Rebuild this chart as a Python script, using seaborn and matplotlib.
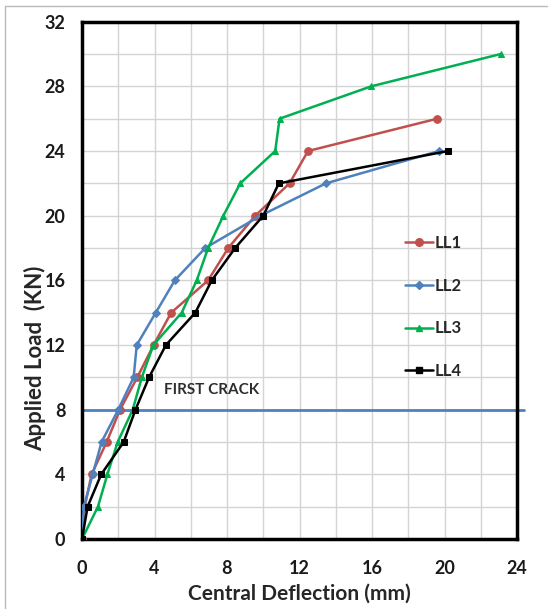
import pandas as pd
import numpy as np
import matplotlib.pyplot as plt
import seaborn as sns
from matplotlib.lines import Line2D

# load steps (KN) and central deflection (mm)
load_ll1 = [0, 2, 4, 6, 8, 10, 12, 14, 16, 18, 20, 22, 24, 26]
defl_ll1 = [0, 0.15, 0.53, 1.36, 2.1, 3.05, 3.95, 4.92, 6.96, 8.07, 9.56, 11.45, 12.47, 19.6]

load_ll2 = [0, 2, 4, 6, 8, 10, 12, 14, 16, 18, 20, 22, 24]
defl_ll2 = [0, 0.1, 0.59, 1.08, 2.0, 2.85, 3.02, 4.07, 5.12, 6.8, 9.85, 13.46, 19.7]

load_ll3 = [0, 2, 4, 6, 8, 10, 12, 14, 16, 18, 20, 22, 24, 26, 28, 30]
defl_ll3 = [0, 0.88, 1.4, 1.97, 2.8, 3.3, 3.94, 5.5, 6.33, 6.96, 7.8, 8.73, 10.66, 10.9, 15.95, 23.1]

load_ll4 = [0, 2, 4, 6, 8, 10, 12, 14, 16, 18, 20, 22, 24]
defl_ll4 = [0, 0.31, 1.06, 2.3, 2.95, 3.7, 4.63, 6.25, 7.16, 8.45, 10.0, 10.86, 20.2]

series_names = ['LL1', 'LL2', 'LL3', 'LL4']
first_crack_load = 8

colors = {'LL1': '#C0504D', 'LL2': '#4F81BD', 'LL3': '#00B050', 'LL4': '#000000'}
markers = {'LL1': 'o', 'LL2': 'D', 'LL3': '^', 'LL4': 's'}
msizes = {'LL1': 5.5, 'LL2': 4, 'LL3': 5, 'LL4': 5}

frames = []
for name, d, l in zip(series_names,
                      [defl_ll1, defl_ll2, defl_ll3, defl_ll4],
                      [load_ll1, load_ll2, load_ll3, load_ll4]):
    frames.append(pd.DataFrame({'Deflection': d, 'Load': l, 'Beam': name}))
df = pd.concat(frames, ignore_index=True)

sns.set_style('white')
plt.rcParams['font.family'] = ['Lato', 'DejaVu Sans']

fig = plt.figure(figsize=(5.48, 6.09), dpi=100)
ax = fig.add_axes([82/548, 1-539/609, (517-82)/548, (539-21.7)/609])

for name in series_names:
    sub = df[df['Beam'] == name]
    sns.lineplot(data=sub, x='Deflection', y='Load', ax=ax, sort=False,
                 estimator=None, color=colors[name], marker=markers[name],
                 markersize=msizes[name], markeredgecolor=colors[name],
                 linewidth=1.8, label=name, legend=False, zorder=3)

ax.axhline(first_crack_load, xmin=0, xmax=1.017, color='#4F81BD', lw=2,
           clip_on=False, zorder=2)
ax.text(4.5, 9.2, 'FIRST CRACK', fontsize=11, fontweight='bold',
        color='#2E2E2E', va='center', ha='left')

ax.set_xlim(0, 24)
ax.set_ylim(0, 32)
ax.set_xticks(np.arange(0, 25, 4))
ax.set_yticks(np.arange(0, 33, 4))
ax.set_xticks(np.arange(0, 25, 2), minor=True)
ax.set_yticks(np.arange(0, 33, 2), minor=True)
ax.grid(which='both', color='#D4D4D4', lw=1)
ax.set_axisbelow(True)
ax.tick_params(which='both', length=0)
ax.tick_params(axis='x', pad=15, labelsize=13)
ax.tick_params(axis='y', pad=12, labelsize=13)
for lab in ax.get_xticklabels() + ax.get_yticklabels():
    lab.set_fontweight('bold')
    lab.set_color('#1A1A1A')

for sp in ax.spines.values():
    sp.set_visible(True)
    sp.set_color('black')
    sp.set_linewidth(2.5)

ax.set_xlabel('Central Deflection (mm)', fontsize=15, fontweight='bold', labelpad=5)
ax.set_ylabel('Applied Load  (KN)', fontsize=16, fontweight='bold')
ax.yaxis.set_label_coords(-0.082, 0.35)

handles = [Line2D([], [], color=colors[n], marker=markers[n], markersize=msizes[n],
                  lw=1.8) for n in series_names]
fig.legend(handles, series_names, loc='upper left',
           bbox_to_anchor=(405/548, 1-235/609), frameon=False,
           prop={'size': 12, 'weight': 'bold'}, labelspacing=1.6,
           handlelength=1.7, handletextpad=0.1, borderpad=0, borderaxespad=0)

# thin grey frame on top and left of the picture
fig.add_artist(Line2D([5/548, 1], [1-6/609, 1-6/609], color='#BBBBBB', lw=1))
fig.add_artist(Line2D([5/548, 5/548], [0, 1-6/609], color='#BBBBBB', lw=1))

plt.savefig('out.png', dpi=100)
